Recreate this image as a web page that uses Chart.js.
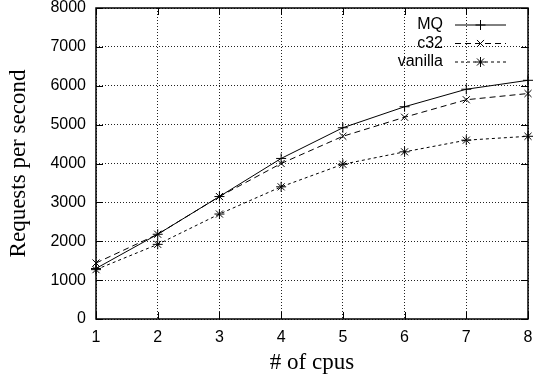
<!DOCTYPE html>
<html>
<head>
<meta charset="utf-8">
<script src="https://cdn.jsdelivr.net/npm/chart.js@4/dist/chart.umd.min.js"></script>
<style>
  html, body { margin: 0; padding: 0; background: #fff; }
  #wrap { width: 536px; height: 379px; }
</style>
</head>
<body>
<div id="wrap"><canvas id="c" width="536" height="379"></canvas></div>
<script>
// Throughput by number of CPUs for three kernel variants
const cpus = [1, 2, 3, 4, 5, 6, 7, 8];
const mq = [1300, 2180, 3150, 4130, 4920, 5460, 5910, 6140];
const c32 = [1440, 2180, 3150, 4000, 4700, 5190, 5640, 5800];
const vanilla = [1270, 1920, 2700, 3400, 3980, 4300, 4600, 4700];
const yTicks = [0, 1000, 2000, 3000, 4000, 5000, 6000, 7000, 8000];

const toPoints = vals => cpus.map((c, i) => ({ x: c, y: vals[i] }));

const tickFont = { family: '"Liberation Sans", Arial, sans-serif', size: 16 };
const titleFont = { family: '"Liberation Serif", "Times New Roman", serif', size: 23 };

// Frame with inward tick marks on all four sides
const framePlugin = {
  id: 'frame',
  afterDatasetsDraw(chart) {
    const { ctx, chartArea: a, scales } = chart;
    ctx.save();
    ctx.strokeStyle = '#000';
    ctx.lineWidth = 1;
    ctx.setLineDash([]);
    const len = 7;
    ctx.beginPath();
    cpus.forEach(v => {
      const x = Math.round(scales.x.getPixelForValue(v)) + 0.5;
      ctx.moveTo(x, a.bottom); ctx.lineTo(x, a.bottom - len);
      ctx.moveTo(x, a.top); ctx.lineTo(x, a.top + len);
    });
    yTicks.forEach(v => {
      const y = Math.round(scales.y.getPixelForValue(v)) + 0.5;
      ctx.moveTo(a.left, y); ctx.lineTo(a.left + len, y);
      ctx.moveTo(a.right, y); ctx.lineTo(a.right - len, y);
    });
    ctx.stroke();
    ctx.lineWidth = 1.5;
    ctx.strokeRect(a.left, a.top, a.right - a.left, a.bottom - a.top);
    ctx.restore();
  }
};

// Key in the top right corner: label, then a line sample with its marker
const keyPlugin = {
  id: 'key',
  afterDraw(chart) {
    const { ctx, chartArea: a } = chart;
    ctx.save();
    ctx.font = `${tickFont.size}px ${tickFont.family}`;
    ctx.textAlign = 'right';
    ctx.textBaseline = 'middle';
    ctx.fillStyle = '#000';
    const textRight = a.right - 85;
    const lineL = a.right - 73, lineR = a.right - 22;
    chart.data.datasets.forEach((ds, i) => {
      const y = a.top + 17 + i * 18.5;
      ctx.fillText(ds.label, textRight, y);
      ctx.strokeStyle = '#000';
      ctx.lineWidth = 1;
      ctx.setLineDash(ds.borderDash || []);
      ctx.beginPath();
      ctx.moveTo(lineL, y); ctx.lineTo(lineR, y);
      ctx.stroke();
      ctx.setLineDash([]);
      Chart.helpers.drawPoint(ctx, {
        pointStyle: ds.pointStyle, radius: ds.pointRadius, borderWidth: 1, rotation: 0
      }, (lineL + lineR) / 2, y);
    });
    ctx.restore();
  }
};

new Chart(document.getElementById('c'), {
  type: 'line',
  data: {
    datasets: [
      { label: 'MQ', data: toPoints(mq), borderDash: [], pointStyle: 'cross' },
      { label: 'c32', data: toPoints(c32), borderDash: [6, 4], pointStyle: 'crossRot' },
      { label: 'vanilla', data: toPoints(vanilla), borderDash: [3, 3], pointStyle: 'star' }
    ].map(d => Object.assign(d, {
      borderColor: '#000', backgroundColor: '#000', borderWidth: 1,
      pointRadius: 5, pointBorderColor: '#000', pointBorderWidth: 1,
      tension: 0, clip: false
    }))
  },
  options: {
    responsive: false,
    animation: false,
    devicePixelRatio: 1,
    layout: { padding: { left: 0, right: 8, top: 8, bottom: 0 } },
    plugins: { legend: { display: false }, tooltip: { enabled: false } },
    scales: {
      x: {
        type: 'linear', min: 1, max: 8,
        afterBuildTicks: s => { s.ticks = cpus.map(v => ({ value: v })); },
        afterFit: s => { s.height = 60; s.paddingLeft = 0; s.paddingRight = 0; },
        border: { display: false, dash: [1, 2] },
        grid: { color: '#222', lineWidth: 1, drawTicks: false },
        ticks: { color: '#000', font: tickFont, padding: 9, maxRotation: 0, callback: v => String(v) },
        title: { display: true, text: '# of cpus', color: '#000', font: titleFont, padding: { top: 0, bottom: 2 } }
      },
      y: {
        type: 'linear', min: 0, max: 8000,
        afterBuildTicks: s => { s.ticks = yTicks.map(v => ({ value: v })); },
        afterFit: s => { s.width = 96; s.paddingTop = 0; s.paddingBottom = 0; },
        border: { display: false, dash: [1, 2] },
        grid: { color: '#222', lineWidth: 1, drawTicks: false },
        ticks: { color: '#000', font: tickFont, padding: 10, callback: v => String(v) },
        title: { display: true, text: 'Requests per second', color: '#000', font: titleFont, padding: { top: 5, bottom: 0 } }
      }
    }
  },
  plugins: [framePlugin, keyPlugin]
});
</script>
</body>
</html>
